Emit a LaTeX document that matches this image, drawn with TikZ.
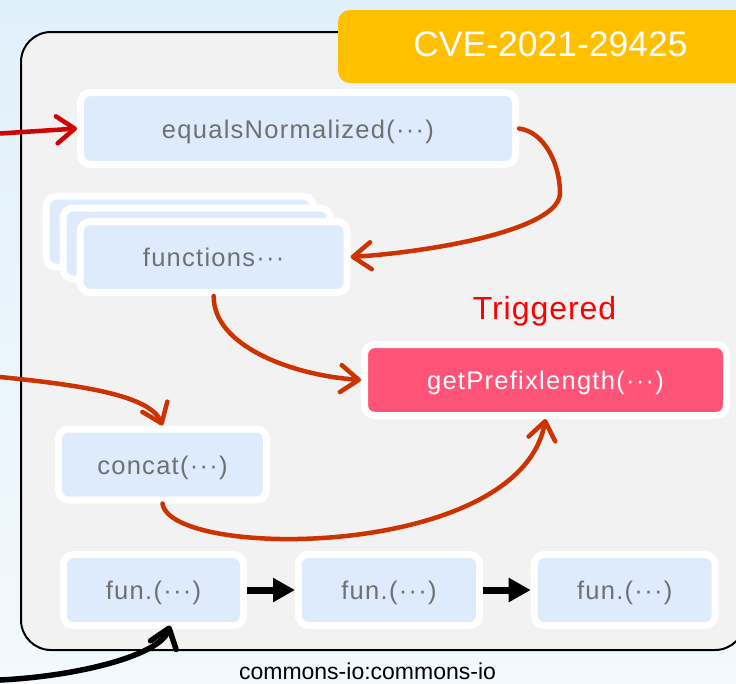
\documentclass[tikz,border=0pt]{standalone}
\usepackage{fontspec}
\setmainfont{Liberation Sans}
\usetikzlibrary{arrows.meta}

\definecolor{bgtop}{RGB}{224,240,250}
\definecolor{bgbot}{RGB}{243,249,253}
\definecolor{panel}{RGB}{242,242,242}
\definecolor{tagorange}{RGB}{255,192,0}
\definecolor{boxblue}{RGB}{221,235,252}
\definecolor{hotpink}{RGB}{255,84,120}
\definecolor{labelgray}{RGB}{112,112,112}
\definecolor{callred}{RGB}{208,0,0}
\definecolor{flowred}{RGB}{204,51,0}

\tikzset{
  fnbox/.style={draw=white, line width=7pt, fill=boxblue, rounded corners=10pt,
    inner sep=0pt, text=labelgray, text height=19pt, text depth=0pt,
    font=\fontsize{25.5}{25.5}\selectfont\addfontfeature{LetterSpace=5}},
  hotbox/.style={fnbox, fill=hotpink, text=white},
  callarrow/.style={line width=4.5pt, callred, line cap=round,
    -{Straight Barb[round,length=18pt,width=27pt]}},
  flowarrow/.style={line width=4.5pt, flowred, line cap=round,
    -{Straight Barb[round,length=18pt,width=27pt]}},
  entryarrow/.style={line width=5.5pt, black, line cap=round,
    -{Straight Barb[round,length=18pt,width=27pt]}},
  seqarrow/.style={line width=7pt, black, -{Triangle[length=22pt,width=23pt]}},
}

\begin{document}
\begin{tikzpicture}[x=1pt,y=-1pt]
  \useasboundingbox (0,0) rectangle (736,683);
  \clip (0,0) rectangle (736,683);

  % backdrop and package panel
  \fill[top color=bgtop, bottom color=bgbot] (0,0) rectangle (736,683);
  \draw[line width=2pt, fill=panel, rounded corners=30pt] (21,32) rectangle (745,650);

  % CVE tag
  \fill[tagorange, rounded corners=12pt] (338,10) rectangle (760,83);
  \node[text=white, font=\fontsize{35.5}{35.5}\selectfont] (cve) at (550.5,44.5) {CVE-2021-29425};

  % methods
  \node[fnbox, minimum width=435pt, minimum height=72pt] (eq) at (298,128.5) {equalsNormalized(···)};

  \node[fnbox, minimum width=267pt, minimum height=71pt] (fnC) at (179.7,231.7) {};
  \node[fnbox, minimum width=267pt, minimum height=71pt] (fnB) at (196.7,243.5) {};
  \node[fnbox, minimum width=267pt, minimum height=71pt] (fn) at (213.7,257) {functions···};

  \node[hotbox, minimum width=362pt, minimum height=71pt] (gp) at (545.5,380) {getPrefixlength(···)};
  \node[text=red, font=\fontsize{32}{32}\selectfont\addfontfeature{LetterSpace=3}] (trig) at (544.5,311) {Triggered};

  \node[fnbox, minimum width=208pt, minimum height=71pt] (cc) at (162.5,464.5) {concat(···)};

  \node[fnbox, minimum width=180pt, minimum height=71pt] (f1) at (153.5,590) {fun.(···)};
  \node[fnbox, minimum width=181pt, minimum height=71pt] (f2) at (389,590) {fun.(···)};
  \node[fnbox, minimum width=181pt, minimum height=71pt] (f3) at (624.7,590) {fun.(···)};

  \node[anchor=base, font=\fontsize{23}{23}\selectfont] (pkg) at (367.5,679) {commons-io:commons-io};

  % incoming calls from outside the package
  \coordinate (inEq) at (0,133.5);
  \coordinate (inCc) at (0,377);
  \coordinate (inF1) at (0,680);

  \draw[callarrow] (inEq) -- (eq.west);
  \draw[flowarrow] (inCc) .. controls (80,385) and (150,395) .. (cc.north);
  \draw[entryarrow] (inF1) .. controls (80,676) and (160,655) .. ([xshift=16.5pt,yshift=3.5pt]f1.south);

  % call flow inside the package
  \draw[flowarrow] (eq.east) .. controls (545,132) and (560,165) .. (560,193)
                             .. controls (560,230) and (430,252) .. (fn.east);
  \draw[flowarrow] (fn.south) .. controls (213,345) and (290,375) .. (gp.west);
  \draw[flowarrow] (cc.south) .. controls (170,560) and (520,560) .. (gp.south);

  \draw[seqarrow] (f1.east) -- (f2.west);
  \draw[seqarrow] (f2.east) -- (f3.west);
\end{tikzpicture}
\end{document}
